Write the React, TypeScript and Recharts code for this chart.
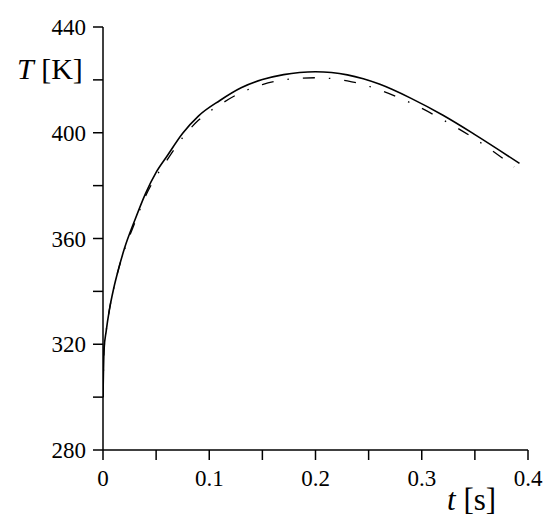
import { Line, LineChart, XAxis, YAxis } from "recharts";

// time [s] and temperature [K]
const timeSolid = [0, 0.001, 0.003, 0.006, 0.01, 0.015, 0.02, 0.03, 0.04, 0.05, 0.06, 0.075, 0.09, 0.11, 0.13, 0.15, 0.17, 0.185, 0.2, 0.215, 0.23, 0.245, 0.26, 0.29, 0.32, 0.35, 0.392];
const tempSolid = [300, 318, 325, 333, 341, 349, 356, 367, 377, 385, 391, 399.8, 406.4, 412.2, 417, 420.1, 422, 422.8, 423.1, 422.8, 421.9, 420.4, 418.4, 413, 406.6, 399.3, 388.4];

const timeDashed = [0, 0.001, 0.003, 0.006, 0.01, 0.015, 0.02, 0.03, 0.04, 0.05, 0.06, 0.075, 0.09, 0.11, 0.13, 0.15, 0.17, 0.185, 0.2, 0.215, 0.23, 0.245, 0.26, 0.29, 0.32, 0.35, 0.387];
const tempDashed = [300, 318, 325, 333, 341, 349, 355.5, 366, 376, 383.5, 389.5, 398.2, 404.8, 410.6, 415.2, 418.2, 420, 420.6, 420.8, 420.5, 419.6, 418.2, 416.2, 411.2, 404.9, 397.7, 387.1];

const xTicks = [0, 0.05, 0.1, 0.15, 0.2, 0.25, 0.3, 0.35, 0.4];
const yTicks = [280, 300, 320, 340, 360, 380, 400, 420, 440];

const solid = timeSolid.map((t, i) => ({ t, T: tempSolid[i] }));
const dashed = timeDashed.map((t, i) => ({ t, T: tempDashed[i] }));

const font = "'Liberation Serif', 'Times New Roman', serif";
const axisStroke = { stroke: "#000", strokeWidth: 1.5 };

const XTick = ({ x, y, payload }: any) => {
  const v = payload.value as number;
  if (Math.round(v * 100) % 10 !== 0) return null;
  return (
    <text x={x} y={y} dy="0.71em" textAnchor="middle" fontFamily={font} fontSize={23} fill="#000">
      {String(Number(v.toFixed(1)))}
    </text>
  );
};

const YTick = ({ x, y, payload }: any) => {
  const v = payload.value as number;
  if (v % 40 !== 0) return null;
  return (
    <text x={x} y={y} dy="0.355em" textAnchor="end" fontFamily={font} fontSize={23} fill="#000">
      {v}
    </text>
  );
};

const YTitle = () => (
  <text x={17} y={79} fontFamily={font} fontSize={30} fill="#000">
    <tspan fontStyle="italic">T</tspan> [K]
  </text>
);

const XTitle = () => (
  <text x={447} y={510} fontFamily={font} fontSize={31} fill="#000">
    <tspan fontStyle="italic">t</tspan> [s]
  </text>
);

export default function App() {
  return (
    <div style={{ position: "absolute", left: 0, top: 0, background: "#fff" }}>
      <LineChart width={550} height={528} margin={{ top: 27, right: 22, bottom: 38, left: 0 }}>
        <XAxis
          type="number"
          dataKey="t"
          domain={[0, 0.4]}
          ticks={xTicks}
          tick={<XTick />}
          tickSize={10}
          tickMargin={10}
          axisLine={axisStroke}
          tickLine={axisStroke}
          height={40}
          allowDataOverflow
          label={<XTitle />}
        />
        <YAxis
          type="number"
          domain={[280, 440]}
          ticks={yTicks}
          tick={<YTick />}
          tickSize={10}
          tickMargin={7}
          axisLine={axisStroke}
          tickLine={axisStroke}
          width={103}
          allowDataOverflow
          label={<YTitle />}
        />
        <Line
          data={dashed}
          dataKey="T"
          type="monotone"
          stroke="#000"
          strokeWidth={1.3}
          strokeDasharray="12 14 1.5 14"
          dot={false}
          isAnimationActive={false}
        />
        <Line
          data={solid}
          dataKey="T"
          type="monotone"
          stroke="#000"
          strokeWidth={1.6}
          dot={false}
          isAnimationActive={false}
        />
      </LineChart>
    </div>
  );
}
